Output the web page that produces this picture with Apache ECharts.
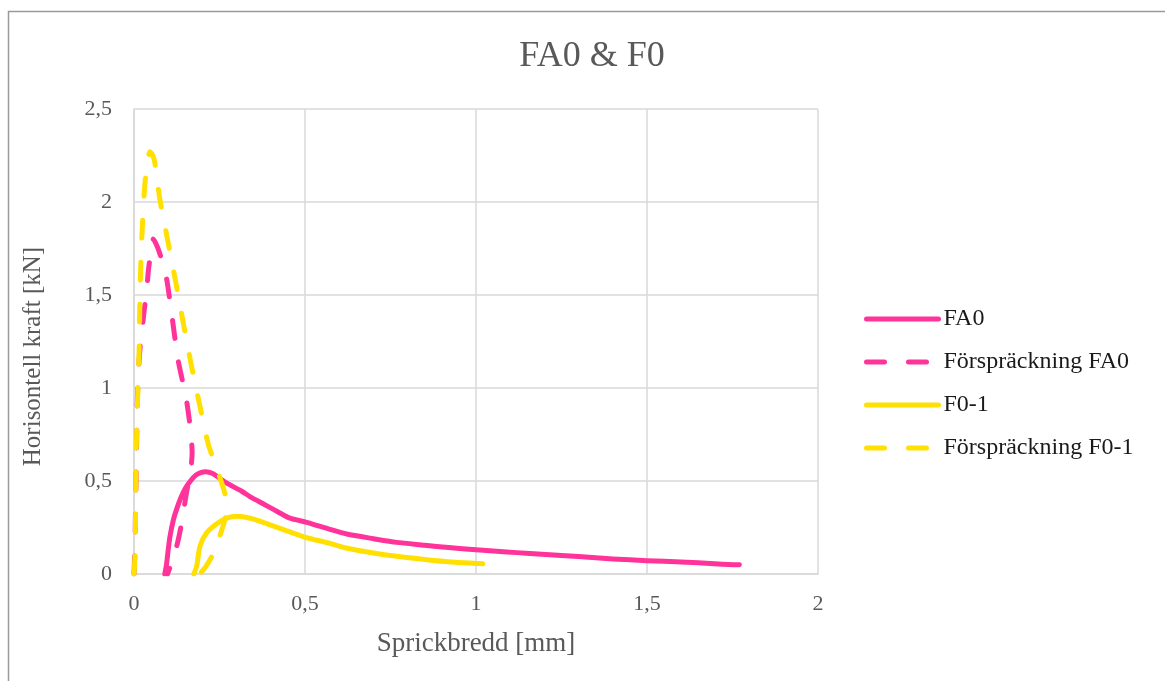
<!DOCTYPE html>
<html>
<head>
<meta charset="utf-8">
<title>FA0 &amp; F0</title>
<script src="https://cdn.jsdelivr.net/npm/echarts@6/dist/echarts.min.js"></script>
<style>
  html, body { margin: 0; padding: 0; background: #ffffff; }
  #chart { width: 1165px; height: 681px; }
</style>
</head>
<body>
<div id="chart"></div>
<script>
// Crack width [mm] vs. horizontal force [kN]
const chartTitle = 'FA0 & F0';
const xAxisTitle = 'Sprickbredd [mm]';
const yAxisTitle = 'Horisontell kraft [kN]';
const seriesNames = ['FA0', 'Förspräckning FA0', 'F0-1', 'Förspräckning F0-1'];
const xTicks = [0, 0.5, 1, 1.5, 2];
const yTicks = [0, 0.5, 1, 1.5, 2, 2.5];

// FA0 – main loading after pre-cracking
const fa0 = [
  [0.090, 0.00], [0.095, 0.05], [0.100, 0.13], [0.105, 0.20], [0.115, 0.29],
  [0.125, 0.35], [0.137, 0.41], [0.150, 0.46], [0.165, 0.50], [0.180, 0.53],
  [0.195, 0.545], [0.210, 0.55], [0.230, 0.54], [0.250, 0.515], [0.270, 0.49],
  [0.290, 0.47], [0.315, 0.445], [0.340, 0.415], [0.365, 0.39], [0.390, 0.365],
  [0.420, 0.335], [0.456, 0.30], [0.505, 0.278], [0.573, 0.24], [0.622, 0.215],
  [0.700, 0.19], [0.768, 0.17], [0.850, 0.155], [0.920, 0.142], [1.000, 0.13],
  [1.080, 0.12], [1.158, 0.11], [1.250, 0.10], [1.350, 0.087], [1.450, 0.076],
  [1.550, 0.068], [1.650, 0.06], [1.720, 0.053], [1.770, 0.05]
];

// FA0 – pre-cracking cycle
const fa0Pre = [
  [0.000, 0.00], [0.003, 0.15], [0.004, 0.30], [0.006, 0.50], [0.008, 0.75],
  [0.010, 0.95], [0.016, 1.18], [0.024, 1.32], [0.030, 1.42], [0.037, 1.52],
  [0.042, 1.63], [0.050, 1.74], [0.056, 1.80], [0.068, 1.76], [0.081, 1.69],
  [0.096, 1.58], [0.110, 1.40], [0.129, 1.15], [0.152, 0.95], [0.165, 0.78],
  [0.170, 0.65], [0.165, 0.55], [0.152, 0.42], [0.140, 0.28], [0.125, 0.15],
  [0.110, 0.06], [0.098, 0.00]
];

// F0-1 – main loading after pre-cracking
const f01 = [
  [0.175, 0.00], [0.183, 0.04], [0.193, 0.15], [0.212, 0.22], [0.242, 0.27],
  [0.271, 0.30], [0.300, 0.31], [0.340, 0.30], [0.390, 0.27], [0.450, 0.23],
  [0.505, 0.195], [0.573, 0.165], [0.620, 0.14], [0.700, 0.113], [0.768, 0.095],
  [0.850, 0.078], [0.930, 0.064], [1.000, 0.057], [1.020, 0.055]
];

// F0-1 – pre-cracking cycle
const f01Pre = [
  [0.000, 0.00], [0.003, 0.10], [0.005, 0.40], [0.007, 0.70], [0.011, 0.97],
  [0.015, 1.20], [0.017, 1.44], [0.020, 1.67], [0.025, 1.89], [0.032, 2.10],
  [0.040, 2.22], [0.047, 2.27], [0.055, 2.25], [0.061, 2.21], [0.076, 2.01],
  [0.100, 1.78], [0.123, 1.56], [0.144, 1.35], [0.169, 1.11], [0.193, 0.90],
  [0.217, 0.70], [0.247, 0.54], [0.266, 0.43], [0.269, 0.33], [0.252, 0.21],
  [0.232, 0.11], [0.210, 0.04], [0.192, 0.00]
];

const PINK = '#ff3399';
const YELLOW = '#ffe000';
const FONT = 'Liberation Serif';
const GRID_COLOR = '#d9d9d9';
const TEXT_COLOR = '#595959';
const DASH = [18, 24];

const commaFmt = v => String(v).replace('.', ',');

function lineSeries(name, data, color, dashed) {
  return {
    name: name,
    type: 'line',
    data: data,
    showSymbol: false,
    symbol: 'none',
    smooth: 0.25,
    animation: false,
    lineStyle: {
      color: color,
      width: 5,
      type: dashed ? DASH : 'solid',
      cap: 'round',
      join: 'round'
    },
    itemStyle: { color: color }
  };
}

const chart = echarts.init(document.getElementById('chart'), null, { renderer: 'canvas' });

chart.setOption({
  backgroundColor: '#ffffff',
  animation: false,
  title: {
    text: chartTitle,
    left: 587,
    top: 34,
    textAlign: 'center',
    textStyle: { fontFamily: FONT, fontSize: 36, fontWeight: 'normal', color: TEXT_COLOR }
  },
  graphic: [{
    type: 'rect',
    shape: { x: 8.5, y: 11.5, width: 1200, height: 720 },
    style: { fill: null, stroke: '#9a9a9a', lineWidth: 1.5 },
    silent: true,
    z: -10
  }],
  legend: {
    orient: 'vertical',
    left: 859,
    top: 302,
    itemWidth: 72,
    itemHeight: 24,
    itemGap: 19,
    data: seriesNames,
    itemStyle: { opacity: 0 },
    lineStyle: { width: 5, cap: 'round' },
    textStyle: { fontFamily: FONT, fontSize: 24, color: '#1a1a1a', lineHeight: 24 }
  },
  grid: { left: 134, top: 109, right: 347, bottom: 107, containLabel: false },
  xAxis: {
    type: 'value',
    min: xTicks[0],
    max: xTicks[xTicks.length - 1],
    interval: 0.5,
    name: xAxisTitle,
    nameLocation: 'middle',
    nameGap: 56,
    nameTextStyle: { fontFamily: FONT, fontSize: 27, color: TEXT_COLOR },
    axisLine: { show: true, lineStyle: { color: GRID_COLOR, width: 1.5 } },
    axisTick: { show: false },
    axisLabel: { formatter: commaFmt, fontFamily: FONT, fontSize: 22, color: TEXT_COLOR, margin: 19 },
    splitLine: { show: true, lineStyle: { color: GRID_COLOR, width: 1.5 } }
  },
  yAxis: {
    type: 'value',
    min: yTicks[0],
    max: yTicks[yTicks.length - 1],
    interval: 0.5,
    name: yAxisTitle,
    nameLocation: 'middle',
    nameGap: 88,
    nameRotate: 90,
    nameTextStyle: { fontFamily: FONT, fontSize: 25, color: TEXT_COLOR, padding: [0, 30, 0, 0] },
    axisLine: { show: true, lineStyle: { color: GRID_COLOR, width: 1.5 } },
    axisTick: { show: false },
    axisLabel: { formatter: commaFmt, fontFamily: FONT, fontSize: 22, color: TEXT_COLOR, margin: 22 },
    splitLine: { show: true, lineStyle: { color: GRID_COLOR, width: 1.5 } }
  },
  series: [
    lineSeries(seriesNames[0], fa0, PINK, false),
    lineSeries(seriesNames[1], fa0Pre, PINK, true),
    lineSeries(seriesNames[2], f01, YELLOW, false),
    lineSeries(seriesNames[3], f01Pre, YELLOW, true)
  ]
});
</script>
</body>
</html>
